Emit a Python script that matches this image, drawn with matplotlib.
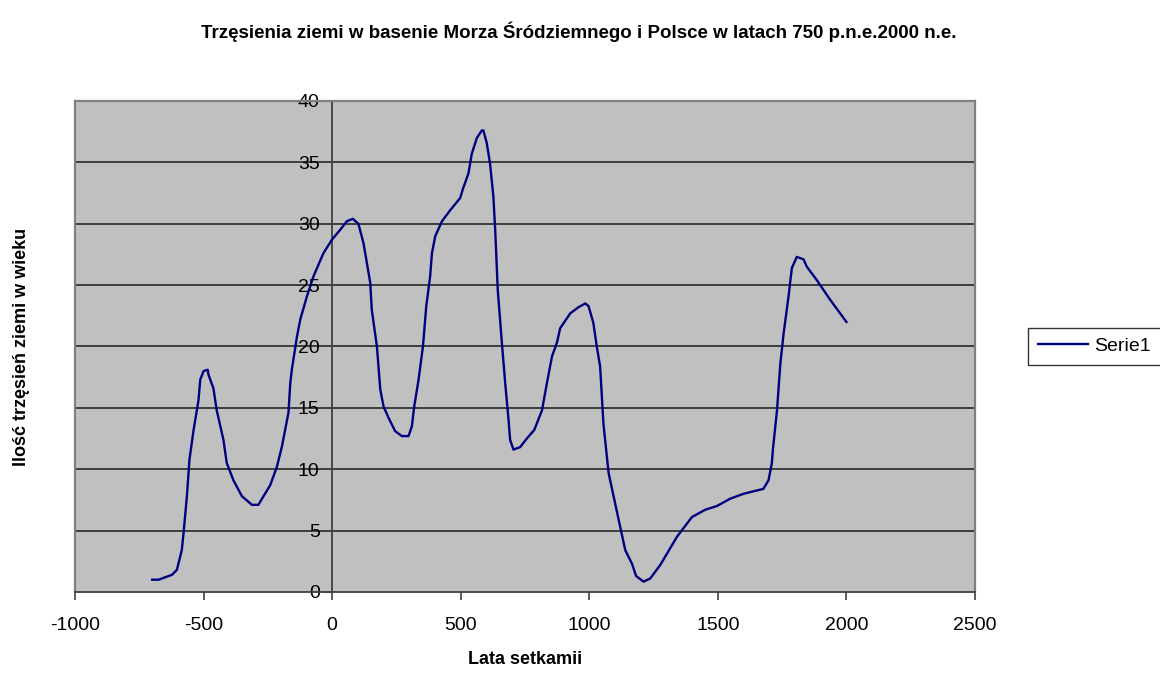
import matplotlib.pyplot as plt
import numpy as np

# Rok (setki lat) i liczba trzęsień ziemi w wieku
years = [-700, -675, -623, -604, -585, -578, -565, -555, -539, -520, -513, -500,
         -484, -481, -462, -449, -423, -410, -384, -351, -312, -287, -267, -241,
         -215, -196, -170, -163, -157, -137, -124, -98, -73, -34, -1, 31, 57, 80,
         102, 122, 148, 154, 174, 180, 187, 200, 219, 245, 271, 297, 310, 319,
         336, 353, 366, 381, 388, 401, 427, 459, 498, 508, 530, 543, 563, 582,
         588, 601, 614, 627, 634, 644, 660, 673, 686, 692, 705, 731, 757, 786,
         816, 835, 855, 874, 887, 926, 958, 984, 997, 1016, 1029, 1042, 1055,
         1075, 1114, 1140, 1166, 1182, 1211, 1237, 1276, 1341, 1399, 1451, 1496,
         1548, 1600, 1677, 1697, 1710, 1714, 1730, 1743, 1756, 1775, 1781, 1788,
         1807, 1833, 1846, 1885, 1937, 2000]
quakes = [1.0, 1.0, 1.4, 1.8, 3.4, 4.8, 7.8, 10.8, 13.2, 15.6, 17.3, 18.0,
          18.1, 17.7, 16.6, 14.8, 12.4, 10.5, 9.1, 7.8, 7.1, 7.1, 7.8, 8.7,
          10.2, 11.8, 14.6, 17.0, 18.1, 20.8, 22.2, 24.1, 25.7, 27.6, 28.7, 29.5, 30.2, 30.4,
          30.0, 28.4, 25.2, 23.0, 20.0, 18.4, 16.5, 15.1, 14.2, 13.1, 12.7, 12.7, 13.5, 15.1,
          17.3, 20.0, 23.3, 25.7, 27.6, 29.0, 30.2, 31.1, 32.1, 32.8, 34.1, 35.7, 37.0, 37.6,
          37.6, 36.6, 34.9, 32.2, 29.5, 24.6, 20.3, 17.0, 14.0, 12.4, 11.6, 11.8, 12.5, 13.2,
          14.8, 17.0, 19.2, 20.3, 21.5, 22.7, 23.2, 23.5, 23.3, 21.9, 20.0, 18.4, 13.7,
          9.7, 5.9, 3.4, 2.3, 1.3, 0.84, 1.1, 2.2, 4.5, 6.1, 6.7, 7.0,
          7.6, 8.0, 8.4, 9.1, 10.5, 11.6, 14.8, 18.6, 21.1, 24.1, 25.2, 26.4,
          27.3, 27.1, 26.5, 25.4, 23.8, 22.0]

x_ticks = [-1000, -500, 0, 500, 1000, 1500, 2000, 2500]
y_ticks = [0, 5, 10, 15, 20, 25, 30, 35, 40]

plt.rcParams['font.family'] = ['Liberation Sans', 'DejaVu Sans']

fig = plt.figure(figsize=(11.6, 6.75), dpi=100)
ax = fig.add_axes([0.0647, 0.123, 0.7758, 0.7274])
ax.set_facecolor('#c0c0c0')

# Grid lines (like Excel's major gridlines)
for yv in y_ticks[1:]:
	ax.axhline(yv, color='#333333', linewidth=1.3, zorder=1)

ax.plot(years, quakes, color='#000080', linewidth=1.7, label='Serie1', zorder=3)

ax.set_xlim(-1000, 2500)
ax.set_ylim(0, 40)
ax.set_xticks(x_ticks)
ax.set_yticks(y_ticks)
ax.set_xticklabels([str(v) for v in x_ticks])
ax.set_yticklabels([str(v) for v in y_ticks])

# y-axis crosses at x = 0
ax.spines['left'].set_position(('data', 0))
ax.spines['left'].set_color('#404040')
ax.spines['left'].set_linewidth(1.3)
ax.spines['bottom'].set_color('#404040')
ax.spines['bottom'].set_linewidth(1.3)
for s in ['top', 'right']:
	ax.spines[s].set_color('#808080')
	ax.spines[s].set_linewidth(1.6)
ax.axvline(-1000, color='#808080', linewidth=1.6, clip_on=False, zorder=2)

ax.tick_params(axis='both', which='major', labelsize=14, direction='out',
			   length=6, width=1.2, color='#404040')
ax.tick_params(axis='x', pad=12)
ax.tick_params(axis='y', pad=3)

fig.text(0.4987, 0.9526,
		 "Trzęsienia ziemi w basenie Morza Śródziemnego i Polsce w latach 750 p.n.e.2000 n.e.",
		 fontsize=13.5, fontweight='bold', ha='center', va='center')
ax.set_xlabel("Lata setkamii", fontsize=13, fontweight='bold', labelpad=12)
ax.set_ylabel("Ilość trzęsień ziemi w wieku", fontsize=13, fontweight='bold')
ax.yaxis.set_label_coords(-0.05, 0.5)

leg = ax.legend(loc='center left', bbox_to_anchor=(1.059, 0.5), fontsize=14,
				frameon=True, fancybox=False, handlelength=2.6, handletextpad=0.3,
				borderpad=0.5, borderaxespad=0)
leg.get_frame().set_edgecolor('black')
leg.get_frame().set_linewidth(1.0)

fig.savefig('out.png', dpi=100)
